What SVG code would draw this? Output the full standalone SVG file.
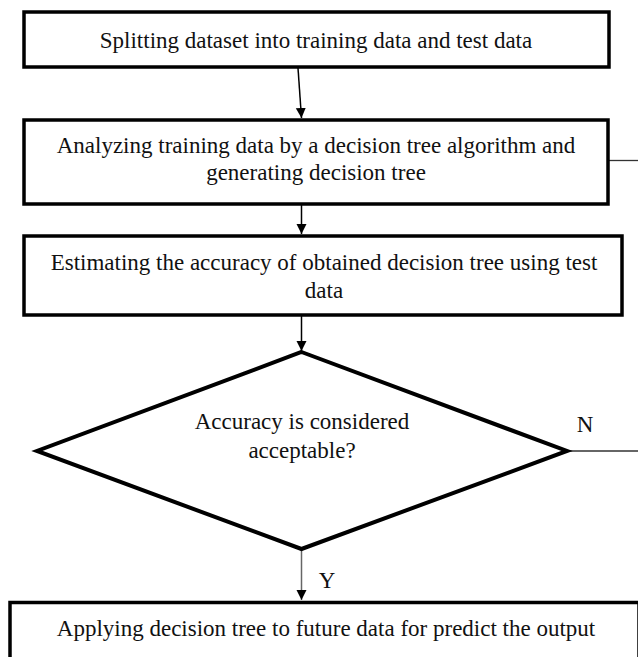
<svg xmlns="http://www.w3.org/2000/svg" width="638" height="657" viewBox="0 0 638 657">
  <style>
    .box { fill: #ffffff; stroke: #000000; stroke-width: 3.5; }
    .dia { fill: #ffffff; stroke: #000000; stroke-width: 4; stroke-linejoin: miter; }
    .lbl { font-family: 'Liberation Serif', 'DejaVu Serif', serif; font-size: 23px; fill: #111111; text-anchor: middle; }
    .conn { stroke: #000000; stroke-width: 1.5; fill: none; }
    .thin { stroke: #333333; stroke-width: 1.3; fill: none; }
    .grey { stroke: #666666; stroke-width: 1.5; fill: none; }
  </style>
  <defs>
    <marker id="ah" markerWidth="10" markerHeight="12" refX="10" refY="5" orient="auto" markerUnits="userSpaceOnUse" viewBox="0 0 10 10">
      <path d="M0,0 L10,5 L0,10 Z" fill="#000000"/>
    </marker>
  </defs>
  <rect width="638" height="657" fill="#ffffff"/>

  <g id="connectors">
    <line class="conn" x1="298" y1="68" x2="301.5" y2="118" marker-end="url(#ah)"/>
    <line class="conn" x1="301.5" y1="205" x2="301.5" y2="234" marker-end="url(#ah)"/>
    <line class="conn" x1="301.5" y1="316" x2="301.5" y2="351" marker-end="url(#ah)"/>
    <line class="grey" x1="301.5" y1="550" x2="301.5" y2="600" marker-end="url(#ah)"/>
    <line class="thin" x1="609" y1="160.5" x2="638" y2="160.5"/>
    <line class="thin" x1="567" y1="451" x2="638" y2="451"/>
    <text class="lbl" font-family="Liberation Serif, serif" x="585" y="432">N</text>
    <text class="lbl" font-family="Liberation Serif, serif" x="327" y="588">Y</text>
  </g>

  <g id="split">
    <rect class="box" x="24" y="12" width="585" height="55"/>
    <text class="lbl" font-family="Liberation Serif, serif" x="316" y="48">Splitting dataset into training data and test data</text>
  </g>

  <g id="analyze">
    <rect class="box" x="24" y="120" width="584" height="84"/>
    <text class="lbl" font-family="Liberation Serif, serif" x="316" y="153">Analyzing training data by a decision tree algorithm and</text>
    <text class="lbl" font-family="Liberation Serif, serif" x="316" y="180">generating decision tree</text>
  </g>

  <g id="estimate">
    <rect class="box" x="24" y="236" width="598" height="79"/>
    <text class="lbl" font-family="Liberation Serif, serif" x="324" y="270">Estimating the accuracy of obtained decision tree using test</text>
    <text class="lbl" font-family="Liberation Serif, serif" x="324" y="298">data</text>
  </g>

  <g id="decision">
    <polygon class="dia" points="301.5,352 567,451 301.5,549 37,451"/>
    <text class="lbl" font-family="Liberation Serif, serif" x="302" y="429">Accuracy is considered</text>
    <text class="lbl" font-family="Liberation Serif, serif" x="302" y="458">acceptable?</text>
  </g>

  <g id="apply">
    <rect class="box" x="10" y="602.5" width="629" height="70"/>
    <text class="lbl" font-family="Liberation Serif, serif" x="326" y="636">Applying decision tree to future data for predict the output</text>
  </g>
</svg>
